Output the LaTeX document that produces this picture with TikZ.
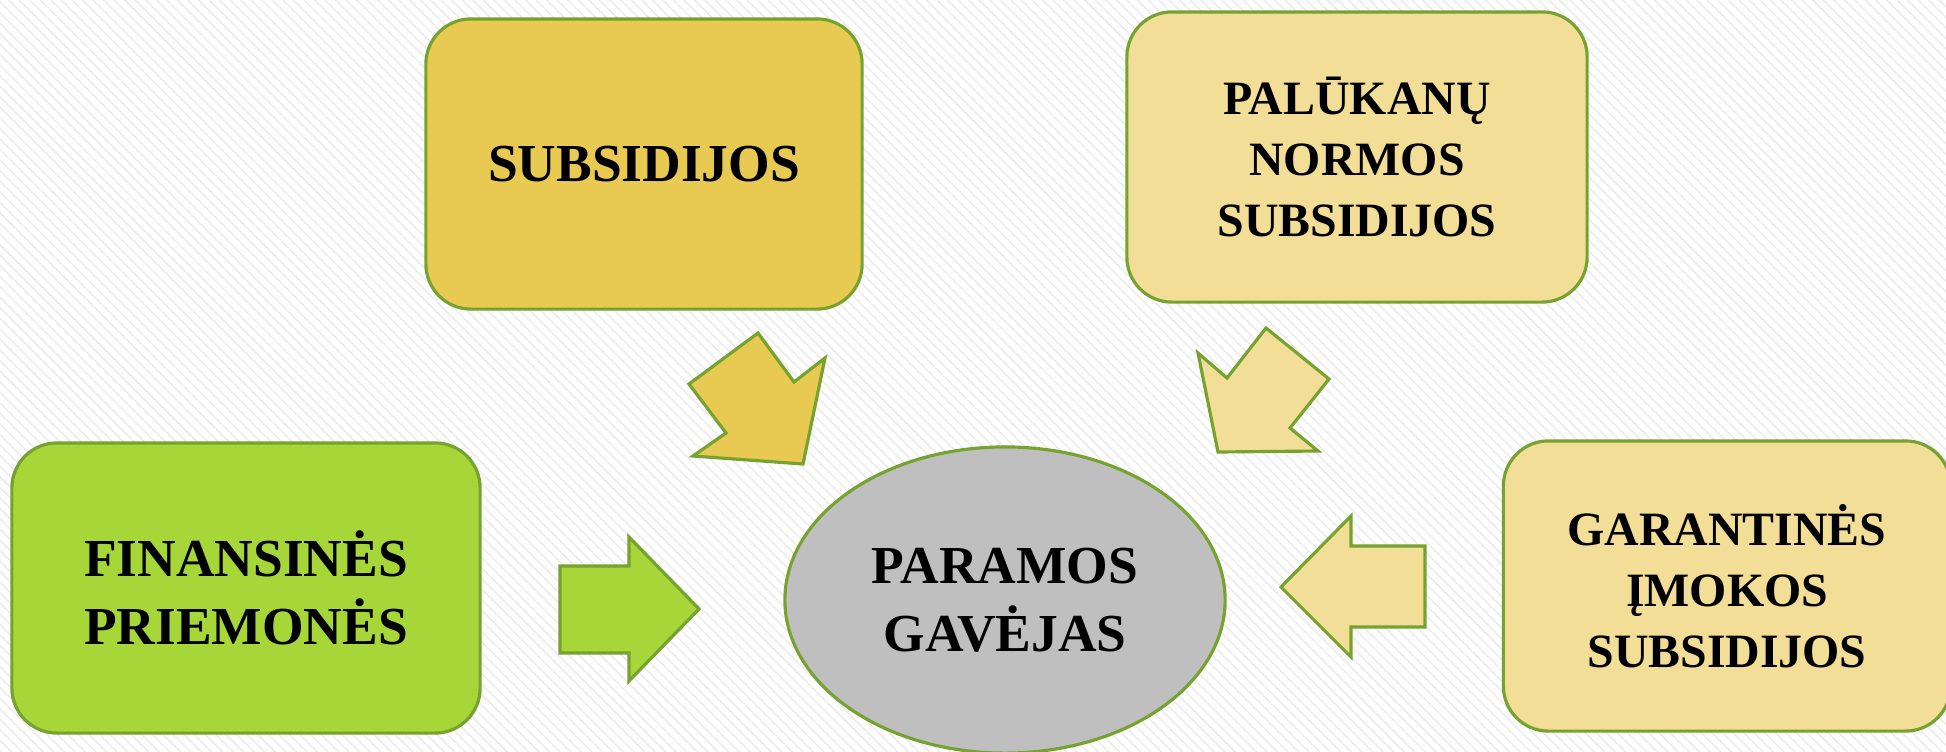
\documentclass[tikz,border=0pt]{standalone}
\usepackage{fontspec}
\setmainfont{Liberation Serif}
\usetikzlibrary{patterns,shapes.geometric}

\definecolor{edgegreen}{HTML}{76A22F}
\definecolor{goldbox}{HTML}{E8C952}
\definecolor{palebox}{HTML}{F2DE97}
\definecolor{limebox}{HTML}{A6D637}
\definecolor{grayoval}{HTML}{BFBFBF}

\newcommand{\boxfont}{\bfseries\fontsize{13.6}{17.3}\selectfont}
\newcommand{\bigboxfont}{\bfseries\fontsize{15.2}{19.3}\selectfont}

\tikzset{
	box/.style={draw=edgegreen, line width=0.9pt, rounded corners=0.45cm, align=center, font=\boxfont, inner sep=0pt, minimum height=2.9cm},
	blockarrow/.style={draw=edgegreen, line width=0.9pt, line join=miter}
}

\begin{document}
\begin{tikzpicture}[x=0.01cm, y=-0.01cm]
		% background
		\clip (0, 0) rectangle (1946, 751);
		\fill[white] (0, 0) rectangle (1946, 751);
		\fill[pattern=north west lines, pattern color=black!8] (0, 0) rectangle (1946, 751);
		% the boxes
		\node[box, fill=goldbox, minimum width=4.36cm, font=\bigboxfont] (subs) at (644, 164) {SUBSIDIJOS};
		\node[box, fill=palebox, minimum width=4.6cm] (palu) at (1357, 157) {PALŪKANŲ\\NORMOS\\SUBSIDIJOS};
		\node[box, fill=limebox, minimum width=4.68cm, font=\bigboxfont] (fin) at (246, 588) {FINANSINĖS\\PRIEMONĖS};
		\node[box, fill=palebox, minimum width=4.47cm] (gar) at (1727, 586) {GARANTINĖS\\ĮMOKOS\\SUBSIDIJOS};
		% the receiver
		\node[ellipse, draw=edgegreen, line width=0.9pt, fill=grayoval, inner sep=0pt, minimum width=4.4cm, minimum height=3.06cm, align=center, font=\bigboxfont] (gav) at (1005, 600) {PARAMOS\\GAVĖJAS};
		% block arrows towards the receiver
		\draw[blockarrow, fill=goldbox] (758, 333) -- (794, 382) -- (825, 358) -- (803, 464) -- (693, 456) -- (726, 433) -- (689, 384) -- cycle;
		\draw[blockarrow, fill=palebox] (1266, 328) -- (1329, 379) -- (1290, 428) -- (1318, 451) -- (1218, 452) -- (1198, 353) -- (1227, 378) -- cycle;
		\draw[blockarrow, fill=limebox] (560, 566) -- (629, 566) -- (629, 537) -- (699, 609) -- (629, 681) -- (629, 653) -- (560, 653) -- cycle;
		\draw[blockarrow, fill=palebox] (1425, 546) -- (1351, 546) -- (1351, 516) -- (1281, 587) -- (1351, 657) -- (1351, 627) -- (1425, 627) -- cycle;
	\end{tikzpicture}
\end{document}
